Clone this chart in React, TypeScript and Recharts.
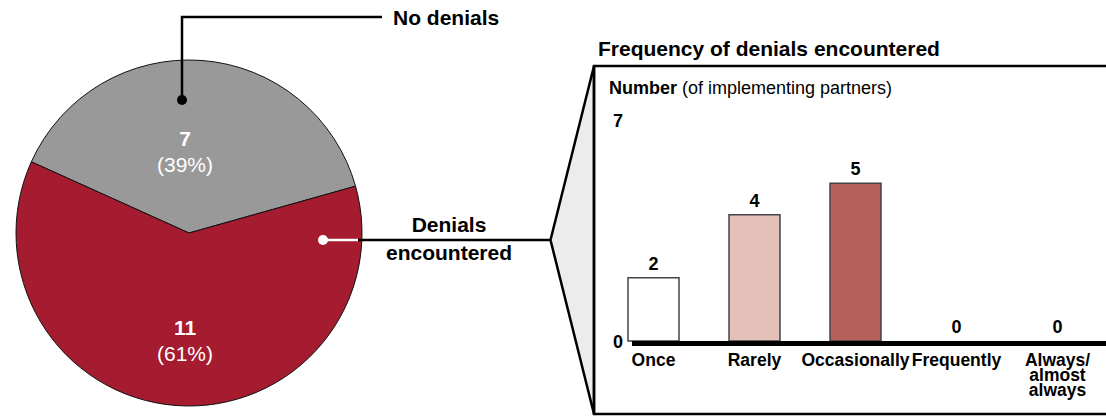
import { PieChart, Pie, Cell, BarChart, Bar, XAxis, YAxis, LabelList } from "recharts";

const pieNames = ["No denials", "Denials encountered"];
const pieValues = [7, 11];
const pieColors = ["#999999", "#a51c30"];

const freqCategories = ["Once", "Rarely", "Occasionally", "Frequently", "Always/\nalmost\nalways"];
const freqValues = [2, 4, 5, 0, 0];
const freqColors = ["#ffffff", "#e3c0b8", "#b5605b", "#ffffff", "#ffffff"];
const yTicks = [0, 7];

const FONT = '"Liberation Sans", Arial, Helvetica, sans-serif';

const pieData = pieNames.map((name, i) => ({ name, value: pieValues[i] }));
const barData = freqCategories.map((name, i) => ({ name, value: freqValues[i] }));
const total = pieValues.reduce((a, b) => a + b, 0);

// how far down the radius each slice's label sits
const labelRatio = [0.475, 0.625];

function renderPieLabel(props: any) {
  const { cx, cy, midAngle, outerRadius, index, value } = props;
  const rad = (midAngle * Math.PI) / 180;
  const y = cy - outerRadius * labelRatio[index] * Math.sin(rad);
  const x = cx - 4;
  const pct = Math.round((value / total) * 100);
  return (
    <g key={index}>
      <text x={x} y={y - 13} textAnchor="middle" dominantBaseline="central" fill="#fff" fontFamily={FONT} fontSize={21} fontWeight="bold">
        {value}
      </text>
      <text x={x} y={y + 13} textAnchor="middle" dominantBaseline="central" fill="#fff" fontFamily={FONT} fontSize={21}>
        ({pct}%)
      </text>
    </g>
  );
}

function XTick({ x, y, payload }: any) {
  const lines = String(payload.value).split("\n");
  return (
    <g>
      {lines.map((l, i) => (
        <text
          key={i}
          x={x}
          y={y + 19 + i * 15}
          textAnchor="middle"
          dominantBaseline="central"
          fontFamily={FONT}
          fontSize={17.5}
          fontWeight="bold"
          fill="#000"
        >
          {l}
        </text>
      ))}
    </g>
  );
}

function YTick({ x, y, payload }: any) {
  return (
    <text x={x + 15} y={y + 1} textAnchor="middle" dominantBaseline="central" fontFamily={FONT} fontSize={18} fontWeight="bold" fill="#000">
      {payload.value}
    </text>
  );
}

function ValueLabel(props: any) {
  const { x, y, width, height, value } = props;
  // zero bars get a 1px minimum height; measure from their base
  const top = value === 0 ? y + height : y;
  return (
    <text x={x + width / 2} y={top - 14} textAnchor="middle" dominantBaseline="central" fontFamily={FONT} fontSize={18} fontWeight="bold" fill="#000">
      {value}
    </text>
  );
}

export default function App() {
  return (
    <div style={{ position: "absolute", left: 0, top: 0, width: 1106, height: 418, overflow: "hidden", background: "#fff", fontFamily: FONT }}>
      <div style={{ position: "absolute", left: 0, top: 0 }}>
        <PieChart width={400} height={418}>
          <Pie
            data={pieData}
            dataKey="value"
            cx={184}
            cy={228}
            outerRadius={173}
            startAngle={15.7}
            endAngle={375.7}
            stroke="#111"
            strokeWidth={1}
            label={renderPieLabel}
            labelLine={false}
            isAnimationActive={false}
          >
            {pieData.map((d, i) => (
              <Cell key={d.name} fill={pieColors[i]} />
            ))}
          </Pie>
        </PieChart>
      </div>

      <div style={{ position: "absolute", left: 0, top: 0 }}>
        <BarChart width={1108} height={418} data={barData} margin={{ top: 120, right: 0, bottom: 0, left: 0 }}>
          <XAxis dataKey="name" height={77} axisLine={false} tickLine={false} tickSize={0} tickMargin={0} interval={0} tick={<XTick />} />
          <YAxis width={603} domain={[0, 7]} ticks={yTicks} axisLine={false} tickLine={false} tickSize={0} tickMargin={0} tick={<YTick />} />
          <Bar dataKey="value" barSize={51} minPointSize={1} strokeWidth={1.5} isAnimationActive={false}>
            {barData.map((d, i) => (
              <Cell key={d.name} fill={d.value === 0 ? "none" : freqColors[i]} stroke={d.value === 0 ? "none" : "#444"} />
            ))}
            <LabelList dataKey="value" content={<ValueLabel />} />
          </Bar>
        </BarChart>
      </div>

      <svg width={1106} height={418} style={{ position: "absolute", left: 0, top: 0, pointerEvents: "none" }}>
        {/* zoom connector */}
        <polygon points="550.5,240 594,66 594,414" fill="#ececec" stroke="#000" strokeWidth={2.5} strokeLinejoin="miter" />
        <rect x={594} y={66} width={600} height={348} fill="none" stroke="#000" strokeWidth={2.5} />
        {/* baseline */}
        <line x1={632} x2={1106} y1={343.5} y2={343.5} stroke="#000" strokeWidth={5} />

        {/* no denials callout */}
        <polyline points="182,100 182,17 382,17" fill="none" stroke="#000" strokeWidth={2.5} />
        <circle cx={182} cy={100} r={5} fill="#000" />
        <text x={393} y={17} dominantBaseline="central" fontFamily={FONT} fontSize={21} fontWeight="bold">
          No denials
        </text>

        {/* denials encountered callout */}
        <line x1={323} x2={358} y1={240} y2={240} stroke="#fff" strokeWidth={2.5} />
        <circle cx={323} cy={240} r={5} fill="#fff" />
        <line x1={358} x2={551} y1={240} y2={240} stroke="#000" strokeWidth={2.5} />
        <text x={449} y={224} textAnchor="middle" dominantBaseline="central" fontFamily={FONT} fontSize={21} fontWeight="bold">
          Denials
        </text>
        <text x={449} y={252} textAnchor="middle" dominantBaseline="central" fontFamily={FONT} fontSize={21} fontWeight="bold">
          encountered
        </text>

        <text x={598} y={48} dominantBaseline="central" fontFamily={FONT} fontSize={21} fontWeight="bold">
          Frequency of denials encountered
        </text>
        <text x={609} y={88} dominantBaseline="central" fontFamily={FONT} fontSize={18}>
          <tspan fontWeight="bold">Number</tspan> (of implementing partners)
        </text>
      </svg>
    </div>
  );
}
